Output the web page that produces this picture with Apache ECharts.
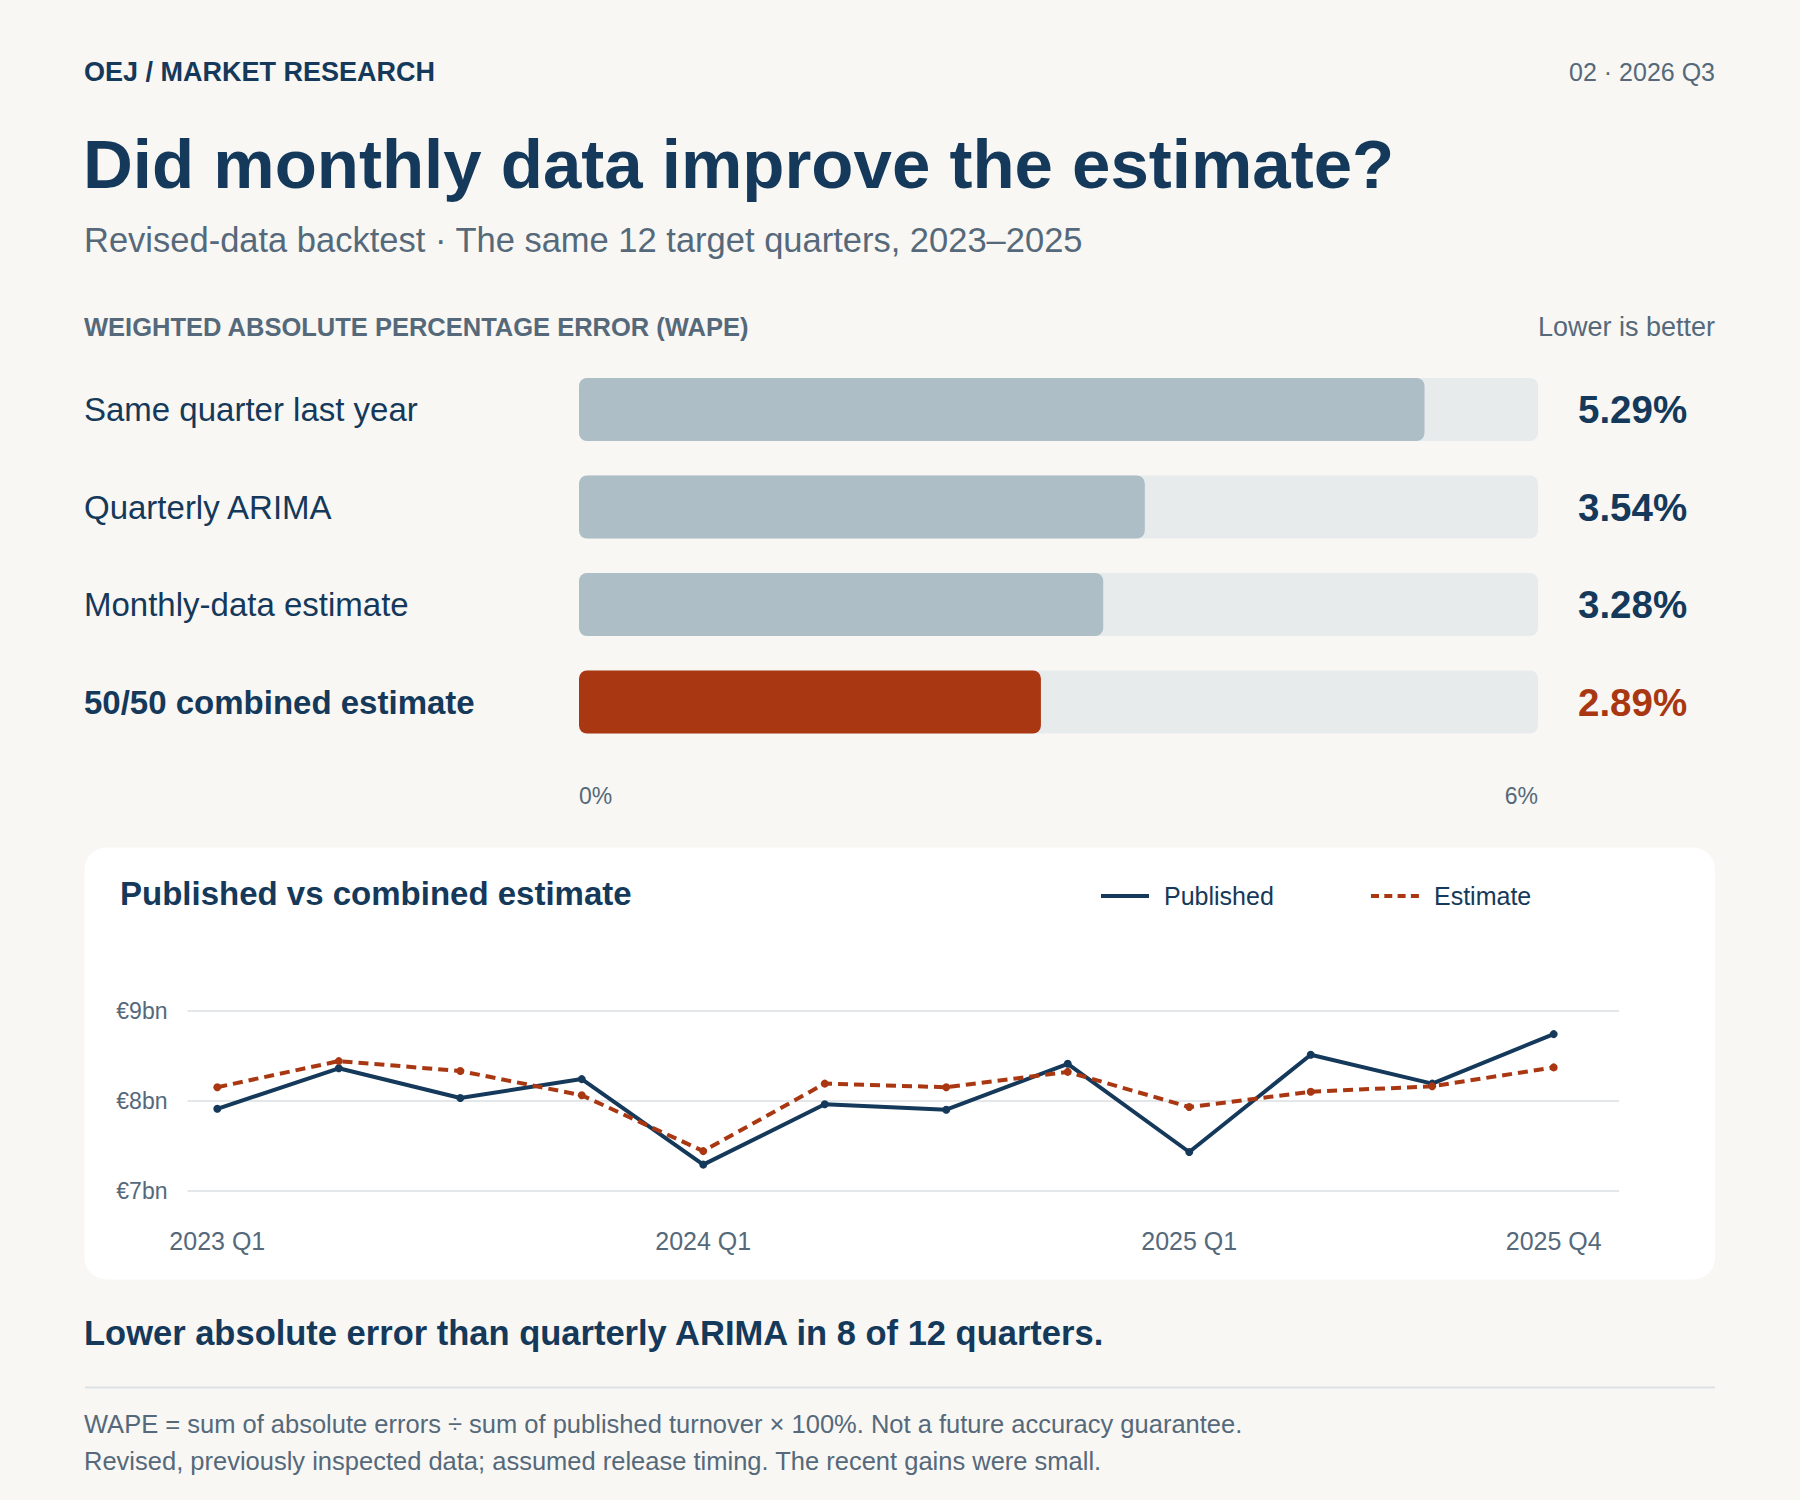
<!DOCTYPE html>
<html>
<head>
<meta charset="utf-8">
<script src="https://cdn.jsdelivr.net/npm/echarts@6/dist/echarts.min.js"></script>
<style>
html,body{margin:0;padding:0;background:#f8f7f4;}
#chart{width:1800px;height:1500px;}
</style>
</head>
<body>
<div id="chart"></div>
<script>
// ---- data ----
const methods = ['Same quarter last year', 'Quarterly ARIMA', 'Monthly-data estimate', '50/50 combined estimate'];
const wape = [5.29, 3.54, 3.28, 2.89];
const highlightMethod = '50/50 combined estimate';
const wapeAxisMin = 0;
const wapeAxisMax = 6;

const quarters = ['2023 Q1','2023 Q2','2023 Q3','2023 Q4','2024 Q1','2024 Q2','2024 Q3','2024 Q4','2025 Q1','2025 Q2','2025 Q3','2025 Q4'];
const published = [7.91, 8.36, 8.03, 8.24, 7.29, 7.96, 7.90, 8.41, 7.43, 8.51, 8.19, 8.74];
const estimate  = [8.15, 8.44, 8.33, 8.06, 7.44, 8.19, 8.15, 8.32, 7.93, 8.10, 8.16, 8.37];
const shownQuarterLabels = ['2023 Q1', '2024 Q1', '2025 Q1', '2025 Q4'];
const euroMin = 7, euroMax = 9, euroStep = 1;

// ---- style ----
const FONT = "'Liberation Sans', Arial, Helvetica, sans-serif";
const NAVY = '#15395a';
const GREY = '#55697a';
const ORANGE = '#a93812';
const BARGREY = '#aebec6';
const TRACK = '#e8ebec';
const BG = '#f8f7f4';

function txt(text, x, y, size, opts) {
  opts = opts || {};
  return {
    type: 'text', z: 5,
    style: {
      text: text, x: x, y: y,
      font: (opts.bold ? 'bold ' : '') + size + 'px ' + FONT,
      fill: opts.color || NAVY,
      textAlign: opts.align || 'left',
      textVerticalAlign: 'middle'
    }
  };
}

const chart = echarts.init(document.getElementById('chart'), null, {renderer: 'svg', width: 1800, height: 1500});

const legendBase = {
  top: 883.5, padding: 0,
  itemWidth: 48, itemHeight: 4,
  itemStyle: {opacity: 0},
  textStyle: {fontSize: 25, color: NAVY, fontFamily: FONT, padding: [0, 0, 0, 10]},
  selectedMode: false
};

const option = {
  backgroundColor: BG,
  animation: false,
  textStyle: {fontFamily: FONT},
  graphic: [
    {type: 'rect', z: -10, shape: {x: 84.5, y: 847.5, width: 1630.5, height: 432, r: 22}, style: {fill: '#ffffff'}},
    {type: 'line', z: 1, shape: {x1: 85, y1: 1387.5, x2: 1715, y2: 1387.5}, style: {stroke: '#dde1e4', lineWidth: 2}},
    txt('OEJ / MARKET RESEARCH', 84, 72, 27, {bold: true}),
    txt('02 · 2026 Q3', 1715, 72, 25, {color: GREY, align: 'right'}),
    txt('Did monthly data improve the estimate?', 83, 164.5, 69, {bold: true}),
    txt('Revised-data backtest · The same 12 target quarters, 2023–2025', 84, 240, 34.5, {color: GREY}),
    txt('WEIGHTED ABSOLUTE PERCENTAGE ERROR (WAPE)', 84, 327, 25.5, {bold: true, color: GREY}),
    txt('Lower is better', 1715, 327, 27, {color: GREY, align: 'right'}),
    txt('Published vs combined estimate', 120, 893.5, 33, {bold: true}),
    txt('Lower absolute error than quarterly ARIMA in 8 of 12 quarters.', 84, 1333, 34.5, {bold: true}),
    txt('WAPE = sum of absolute errors ÷ sum of published turnover × 100%. Not a future accuracy guarantee.', 84, 1424, 25.5, {color: GREY}),
    txt('Revised, previously inspected data; assumed release timing. The recent gains were small.', 84, 1460.5, 25.5, {color: GREY})
  ],
  legend: [
    Object.assign({}, legendBase, {data: ['Published'], left: 1099, lineStyle: {width: 4}}),
    Object.assign({}, legendBase, {data: ['Estimate'], left: 1369, lineStyle: {width: 4, type: [8, 5.3]}})
  ],
  grid: [
    {left: 579, width: 959, top: 360.75, height: 390},
    {left: 187.5, width: 1431.5, top: 1010.7, height: 180},
    {left: 217.3, width: 1336.4, top: 1010.7, height: 180}
  ],
  xAxis: [
    {
      gridIndex: 0, type: 'value', min: wapeAxisMin, max: wapeAxisMax, interval: wapeAxisMax - wapeAxisMin,
      axisLine: {show: false}, axisTick: {show: false}, splitLine: {show: false},
      axisLabel: {formatter: '{value}%', fontSize: 23, color: GREY, margin: 34, alignMinLabel: 'left', alignMaxLabel: 'right'}
    },
    {gridIndex: 1, type: 'value', min: 0, max: 1, show: false},
    {
      gridIndex: 2, type: 'category', data: quarters, boundaryGap: false,
      axisLine: {show: false}, axisTick: {show: false}, splitLine: {show: false},
      axisLabel: {
        fontSize: 25, color: GREY, margin: 38,
        interval: function (i, v) { return shownQuarterLabels.indexOf(v) >= 0; }
      }
    }
  ],
  yAxis: [
    {
      gridIndex: 0, type: 'category', data: methods, inverse: true,
      axisLine: {show: false}, axisTick: {show: false}, splitLine: {show: false},
      axisLabel: {
        margin: 495, align: 'left',
        formatter: function (v) { return v === highlightMethod ? '{b|' + v + '}' : '{n|' + v + '}'; },
        rich: {
          n: {fontSize: 33, color: NAVY, fontFamily: FONT},
          b: {fontSize: 33, color: NAVY, fontWeight: 'bold', fontFamily: FONT}
        }
      }
    },
    {
      gridIndex: 0, type: 'category', position: 'right', inverse: true,
      data: methods,
      axisLine: {show: false}, axisTick: {show: false}, splitLine: {show: false},
      axisLabel: {
        margin: 40, align: 'left',
        formatter: function (v, i) {
          const s = wape[i].toFixed(2) + '%';
          return v === highlightMethod ? '{h|' + s + '}' : '{n|' + s + '}';
        },
        rich: {
          n: {fontSize: 38.5, color: NAVY, fontWeight: 'bold', fontFamily: FONT},
          h: {fontSize: 38.5, color: ORANGE, fontWeight: 'bold', fontFamily: FONT}
        }
      }
    },
    {
      gridIndex: 1, type: 'value', min: euroMin, max: euroMax, interval: euroStep,
      axisLine: {show: false}, axisTick: {show: false},
      splitLine: {lineStyle: {color: '#e3e7ea', width: 2}},
      axisLabel: {formatter: function (v) { return '€' + v + 'bn'; }, fontSize: 23, color: GREY, margin: 20}
    },
    {gridIndex: 2, type: 'value', min: euroMin, max: euroMax, interval: euroStep, show: false}
  ],
  series: [
    {
      type: 'bar', xAxisIndex: 0, yAxisIndex: 0, barWidth: 63,
      showBackground: true,
      backgroundStyle: {color: TRACK, borderRadius: 8},
      data: wape.map(function (v, i) {
        return {value: v, itemStyle: {color: methods[i] === highlightMethod ? ORANGE : BARGREY, borderRadius: 8}};
      }),
      silent: true
    },
    {
      name: 'Published', type: 'line', xAxisIndex: 2, yAxisIndex: 3,
      data: published, color: NAVY,
      symbol: 'circle', symbolSize: 8, showSymbol: true,
      lineStyle: {width: 4, color: NAVY},
      itemStyle: {color: NAVY}
    },
    {
      name: 'Estimate', type: 'line', xAxisIndex: 2, yAxisIndex: 3,
      data: estimate, color: ORANGE,
      symbol: 'circle', symbolSize: 8, showSymbol: true,
      lineStyle: {width: 4, color: ORANGE, type: [10, 6]},
      itemStyle: {color: ORANGE}
    }
  ]
};
chart.setOption(option);
</script>
</body>
</html>
